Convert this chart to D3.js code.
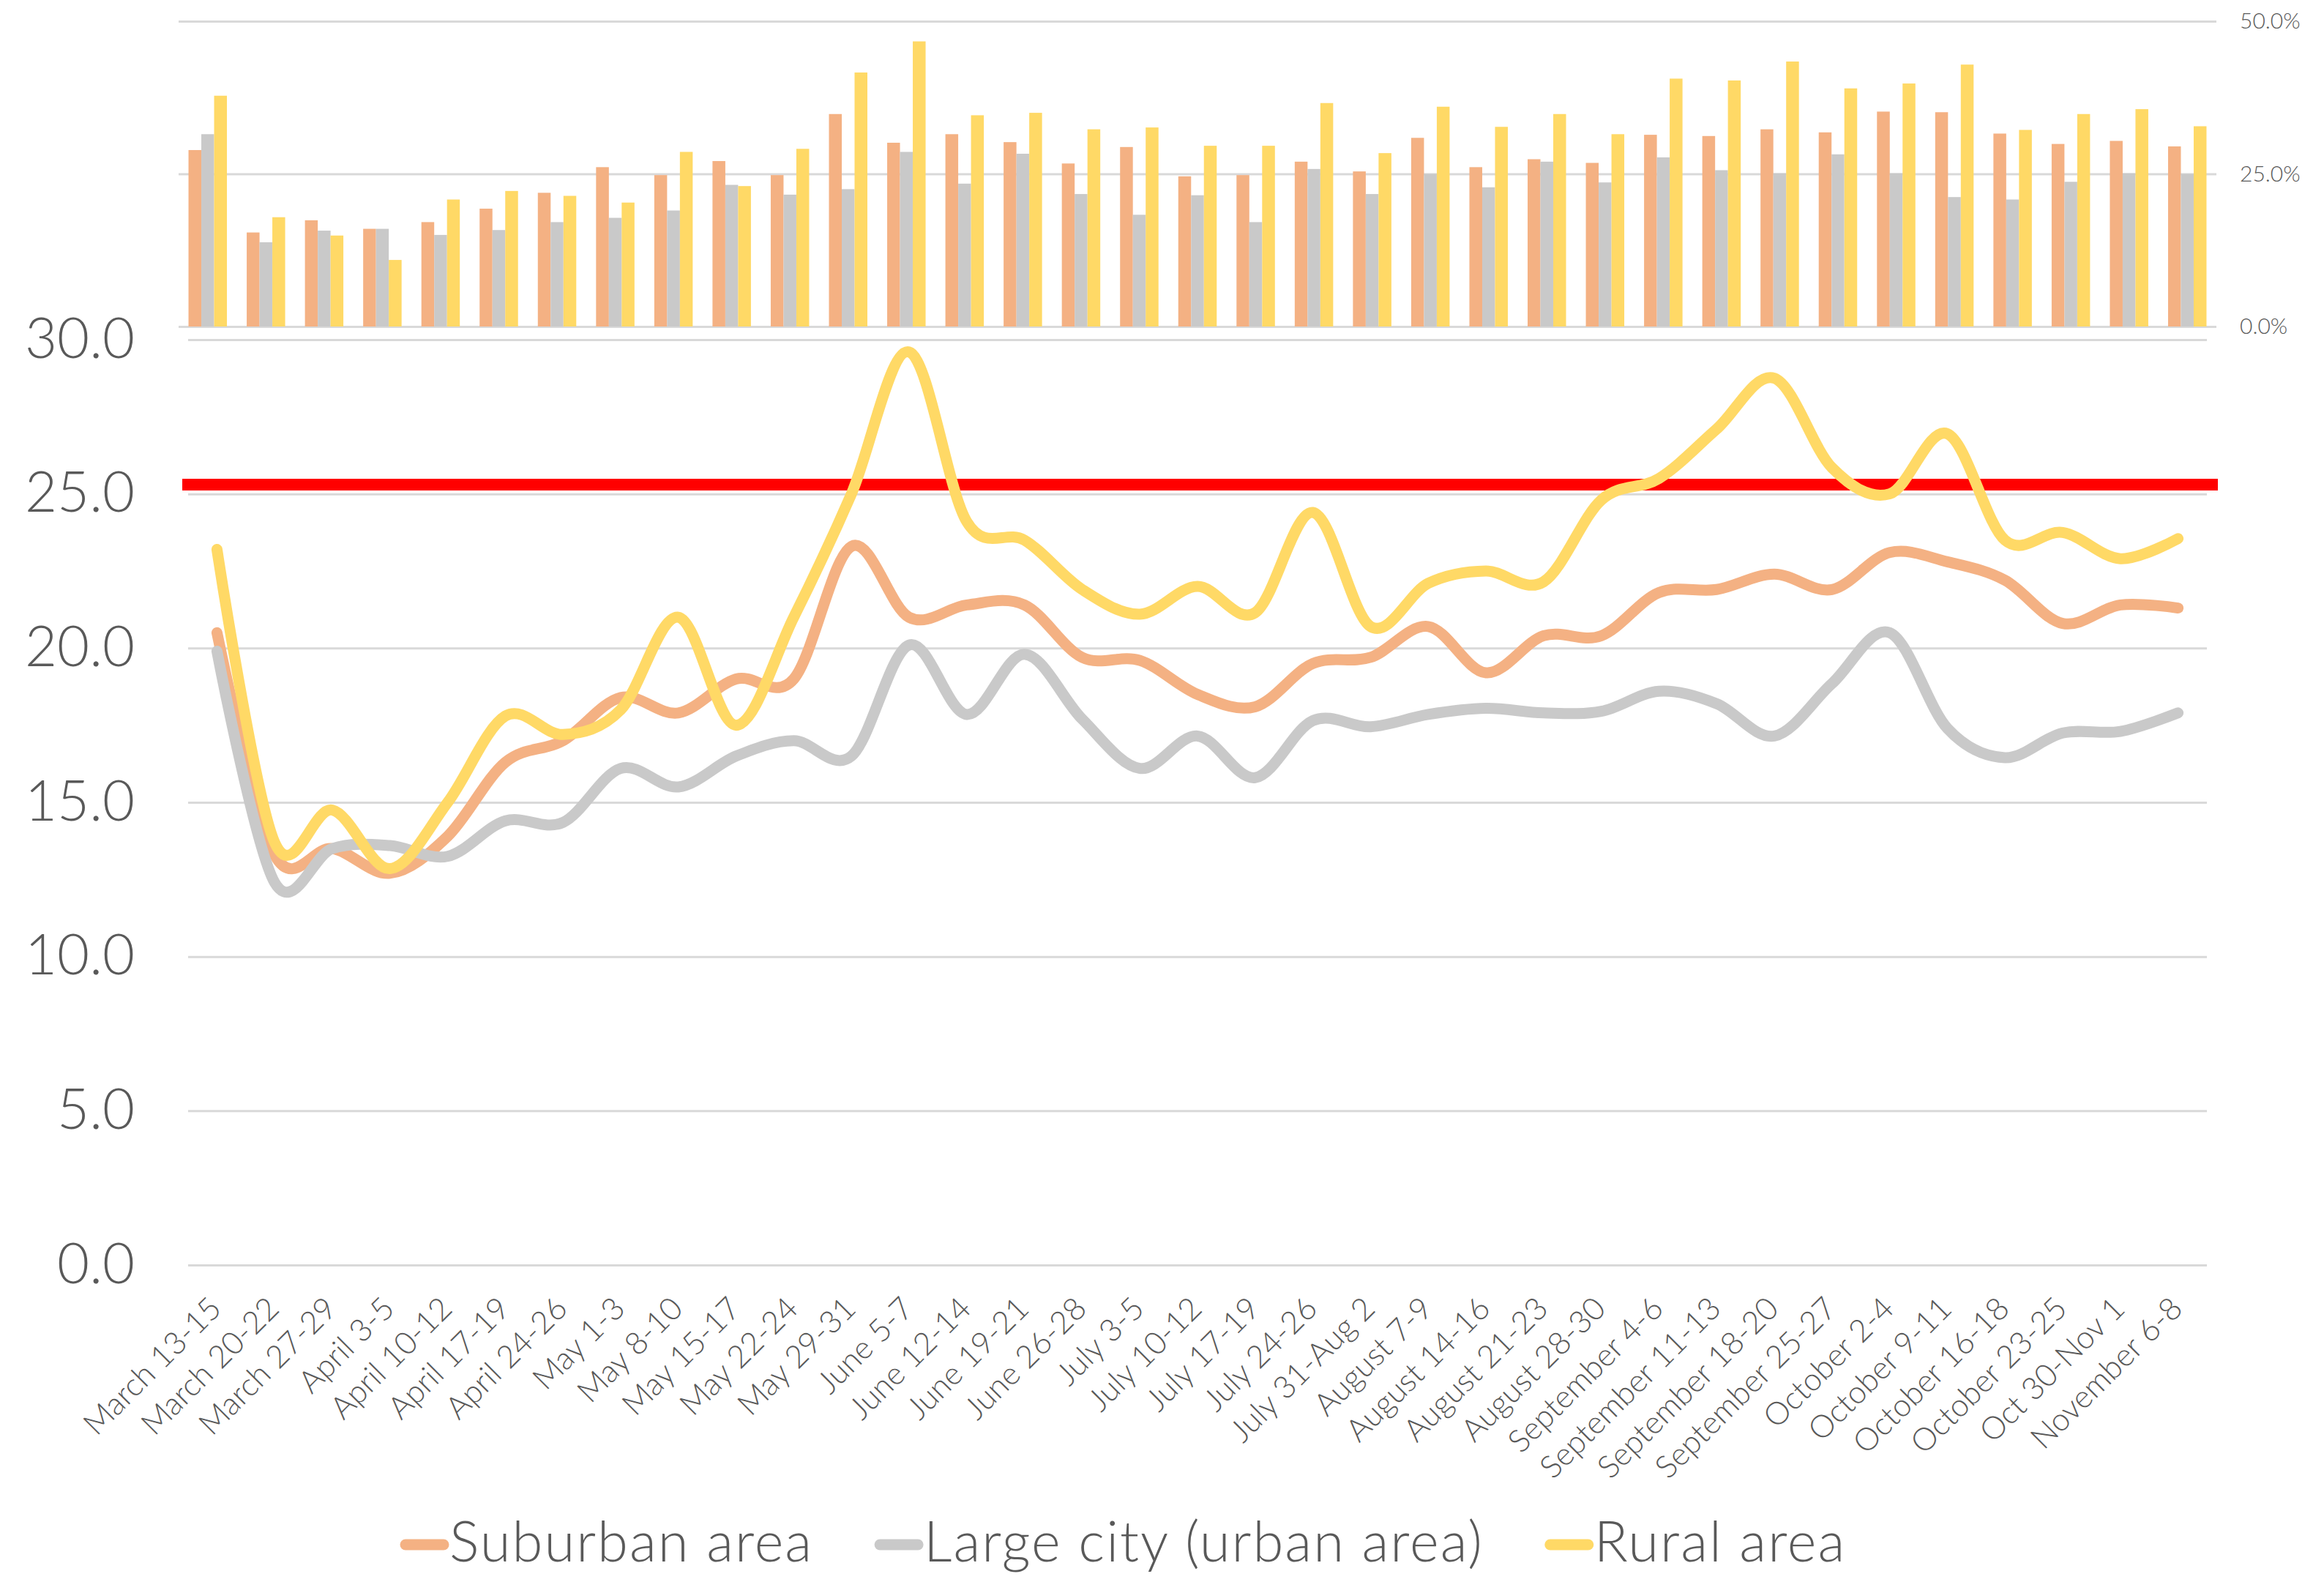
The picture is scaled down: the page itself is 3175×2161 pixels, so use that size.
<!DOCTYPE html>
<html>
<head>
<meta charset="utf-8">
<script src="https://cdn.jsdelivr.net/npm/d3@7"></script>
<style>
  body { margin: 0; background: #fff; }
  text { font-family: Lato, "Open Sans", sans-serif; font-weight: 300; fill: #595959; }
</style>
</head>
<body>
<div id="chart"></div>
<script>
var width = 3175, height = 2161;

// week labels
var weeks = ["March 13-15", "March 20-22", "March 27-29", "April 3-5", "April 10-12", "April 17-19",
  "April 24-26", "May 1-3", "May 8-10", "May 15-17", "May 22-24", "May 29-31", "June 5-7", "June 12-14",
  "June 19-21", "June 26-28", "July 3-5", "July 10-12", "July 17-19", "July 24-26", "July 31-Aug 2",
  "August 7-9", "August 14-16", "August 21-23", "August 28-30", "September 4-6", "September 11-13",
  "September 18-20", "September 25-27", "October 2-4", "October 9-11", "October 16-18", "October 23-25",
  "Oct 30-Nov 1", "November 6-8"];

var seriesNames = ["Suburban area", "Large city (urban area)", "Rural area"];
var seriesColors = ["#F4B183", "#C9C9C9", "#FFD966"];

// line values (left axis)
var suburban = [20.5, 13.3, 13.5, 12.7, 13.9, 16.3, 17.0, 18.4, 17.9, 19.0, 19.0, 23.3, 21.0, 21.4, 21.4,
  19.7, 19.6, 18.5, 18.1, 19.5, 19.7, 20.7, 19.2, 20.4, 20.4, 21.8, 21.9, 22.4, 21.9, 23.1, 22.8, 22.2,
  20.8, 21.4, 21.3];
var largeCity = [19.9, 12.4, 13.5, 13.6, 13.25, 14.4, 14.35, 16.1, 15.5, 16.5, 17.0, 16.5, 20.1, 17.85,
  19.8, 17.7, 16.1, 17.15, 15.8, 17.65, 17.45, 17.85, 18.05, 17.9, 17.95, 18.6, 18.2, 17.15, 18.85, 20.5,
  17.4, 16.45, 17.25, 17.3, 17.9];
var rural = [23.2, 13.7, 14.75, 12.85, 15.0, 17.8, 17.2, 18.0, 21.0, 17.5, 21.0, 25.0, 29.6, 24.1, 23.5,
  21.9, 21.1, 22.0, 21.15, 24.4, 20.7, 22.1, 22.5, 22.15, 24.8, 25.5, 27.1, 28.75, 25.85, 25.0, 26.95,
  23.5, 23.75, 22.9, 23.55];

// bar values (right axis, percent)
var suburbanPct = [28.9, 15.4, 17.4, 16.0, 17.1, 19.3, 21.9, 26.1, 24.8, 27.1, 24.8, 34.8, 30.1, 31.5,
  30.2, 26.7, 29.4, 24.6, 24.8, 27.0, 25.4, 30.9, 26.1, 27.4, 26.8, 31.4, 31.2, 32.3, 31.8, 35.2, 35.1,
  31.6, 29.9, 30.4, 29.5];
var largeCityPct = [31.5, 13.8, 15.7, 16.0, 15.0, 15.8, 17.1, 17.8, 19.0, 23.2, 21.6, 22.5, 28.6, 23.4,
  28.3, 21.7, 18.3, 21.5, 17.1, 25.8, 21.7, 25.0, 22.8, 27.0, 23.6, 27.7, 25.6, 25.1, 28.2, 25.1, 21.2,
  20.8, 23.7, 25.1, 25.0];
var ruralPct = [37.8, 17.9, 14.9, 10.9, 20.8, 22.2, 21.4, 20.3, 28.6, 23.0, 29.1, 41.6, 46.7, 34.6, 35.0,
  32.3, 32.6, 29.6, 29.6, 36.6, 28.4, 36.0, 32.7, 34.8, 31.5, 40.6, 40.3, 43.4, 39.0, 39.8, 42.9, 32.2,
  34.8, 35.6, 32.8];

var leftTicks = [0, 5, 10, 15, 20, 25, 30];
var rightTicks = [0, 25, 50];
var threshold = 25.3;

var lineSeries = [suburban, largeCity, rural];
var barSeries = [suburbanPct, largeCityPct, ruralPct];

var svg = d3.select("#chart").append("svg").attr("width", width).attr("height", height);

// ---- top: bar panel ----
var xBar = d3.scaleBand().domain(weeks).range([244, 3028]).paddingInner(0.34).paddingOuter(0.17);
var xSub = d3.scaleBand().domain([0, 1, 2]).range([0, xBar.bandwidth()]);
var yBar = d3.scaleLinear().domain([0, 50]).range([446, 29]);

var rightAxis = svg.append("g")
    .attr("transform", "translate(3028,0)")
    .call(d3.axisRight(yBar).tickValues(rightTicks).tickSize(-(3028 - 244)).tickPadding(32)
      .tickFormat(function(d) { return d.toFixed(1) + "%"; }));
rightAxis.select(".domain").remove();
rightAxis.selectAll("line").attr("stroke", "#D9D9D9").attr("stroke-width", 3);
rightAxis.selectAll("text").attr("font-size", 30).style("fill", "#595959");

var group = svg.append("g").selectAll("g")
    .data(weeks)
    .enter().append("g")
    .attr("transform", function(d) { return "translate(" + xBar(d) + ",0)"; });

group.selectAll("rect")
    .data(function(d, i) { return barSeries.map(function(s, k) { return {k: k, v: s[i]}; }); })
    .enter().append("rect")
    .attr("x", function(d) { return xSub(d.k); })
    .attr("width", xSub.bandwidth())
    .attr("y", function(d) { return yBar(d.v); })
    .attr("height", function(d) { return yBar(0) - yBar(d.v); })
    .attr("fill", function(d) { return seriesColors[d.k]; });

// ---- bottom: line panel ----
var xLine = d3.scalePoint().domain(weeks).range([257, 3015]).padding(0.5);
var yLine = d3.scaleLinear().domain([0, 30]).range([1728, 464]);

var leftAxis = svg.append("g")
    .attr("transform", "translate(257,0)")
    .call(d3.axisLeft(yLine).tickValues(leftTicks).tickSize(-(3015 - 257)).tickPadding(73)
      .tickFormat(d3.format(".1f")));
leftAxis.select(".domain").remove();
leftAxis.selectAll("line").attr("stroke", "#D9D9D9").attr("stroke-width", 3);
leftAxis.selectAll("text").attr("font-size", 76).style("fill", "#595959");

var bottomAxis = svg.append("g")
    .attr("transform", "translate(0,1728)")
    .call(d3.axisBottom(xLine).tickSize(0));
bottomAxis.select(".domain").remove();
bottomAxis.selectAll("text")
    .attr("font-size", 43)
    .style("fill", "#595959")
    .attr("text-anchor", "end")
    .attr("x", 0).attr("y", 0).attr("dy", 0)
    .attr("transform", "translate(8,62) rotate(-45)");

// threshold
svg.append("line")
    .attr("x1", xBar.range()[0] + 5).attr("x2", xBar.range()[1] + 2)
    .attr("y1", yLine(threshold)).attr("y2", yLine(threshold))
    .attr("stroke", "#FF0000").attr("stroke-width", 16);

var line = d3.line()
    .x(function(d, i) { return xLine(weeks[i]); })
    .y(function(d) { return yLine(d); })
    .curve(d3.curveCardinal.tension(0));

svg.append("g").selectAll("path")
    .data(lineSeries)
    .enter().append("path")
    .attr("d", line)
    .attr("fill", "none")
    .attr("stroke", function(d, i) { return seriesColors[i]; })
    .attr("stroke-width", 15)
    .attr("stroke-linecap", "round")
    .attr("stroke-linejoin", "round");

// ---- legend ----
var legend = svg.append("g").attr("transform", "translate(0,2133)");
var lx = 554;
seriesNames.forEach(function(name, i) {
  legend.append("line")
      .attr("x1", lx).attr("x2", lx + 52)
      .attr("y1", -23).attr("y2", -23)
      .attr("stroke", seriesColors[i]).attr("stroke-width", 15)
      .attr("stroke-linecap", "round");
  var t = legend.append("text")
      .attr("x", lx + 60).attr("y", 0)
      .attr("font-size", 76)
      .attr("letter-spacing", 2)
      .text(name);
  lx += 60 + t.node().getComputedTextLength() + 91;
});
</script>
</body>
</html>
